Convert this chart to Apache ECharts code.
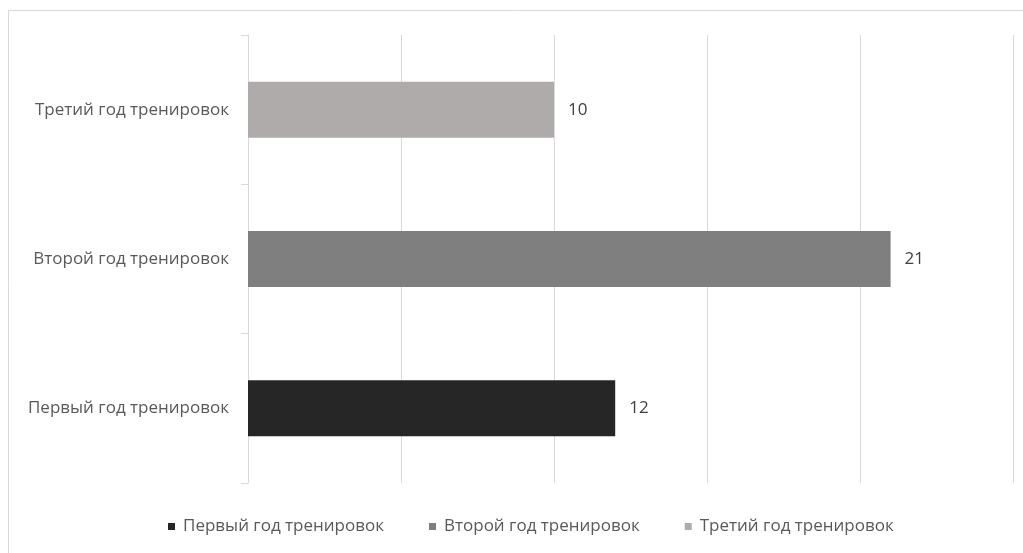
<!DOCTYPE html>
<html><head><meta charset="utf-8">
<script src="https://cdn.jsdelivr.net/npm/echarts@6/dist/echarts.min.js"></script>
<style>html,body{margin:0;padding:0;background:#fff}#c{width:1023px;height:553px}</style>
</head><body><div id="c"></div>
<script>
const categories = ['Первый год тренировок', 'Второй год тренировок', 'Третий год тренировок'];
const seriesNames = ['Первый год тренировок', 'Второй год тренировок', 'Третий год тренировок'];
const values = [12, 21, 10];
const colors = ['#262626', '#7f7f7f', '#afabab'];
const valueTicks = [0, 5, 10, 15, 20, 25];

const chart = echarts.init(document.getElementById('c'));
const FONT = '"Open Sans", sans-serif';
const series = seriesNames.map((name, i) => ({
  name: name,
  type: 'bar',
  stack: 'all',
  barWidth: 56,
  itemStyle: { color: colors[i] },
  data: categories.map((c, j) => j === i ? values[i] : '-'),
  label: { show: true, position: 'right', distance: 14, color: '#404040', fontSize: 17, fontFamily: FONT },
  z: 3
}));
chart.setOption({
  animation: false,
  backgroundColor: '#fff',
  graphic: [{ type: 'rect', shape: { x: 8.5, y: 10.5, width: 1100, height: 600 }, style: { fill: 'none', stroke: '#d9d9d9', lineWidth: 1 }, silent: true, z: -1 }],
  grid: { left: 248, right: 10, top: 35, bottom: 70, containLabel: false },
  xAxis: {
    type: 'value', min: valueTicks[0], max: valueTicks[valueTicks.length - 1], interval: 5,
    axisLabel: { show: false }, axisLine: { show: false }, axisTick: { show: false },
    splitLine: { show: true, lineStyle: { color: '#d9d9d9', width: 1 } }
  },
  yAxis: {
    type: 'category', data: categories,
    axisLine: { show: true, lineStyle: { color: '#d9d9d9' } },
    axisTick: { show: true, length: 7, lineStyle: { color: '#d9d9d9' } },
    axisLabel: { color: '#595959', fontSize: 17, fontFamily: FONT, margin: 19 },
    splitLine: { show: false }
  },
  legend: {
    bottom: 13, left: 163, icon: 'rect', itemWidth: 7, itemHeight: 7, itemGap: 45,
    textStyle: { color: '#595959', fontSize: 17, fontFamily: FONT, padding: [0, 0, 0, 3] },
    data: seriesNames
  },
  series: series
});
</script></body></html>
